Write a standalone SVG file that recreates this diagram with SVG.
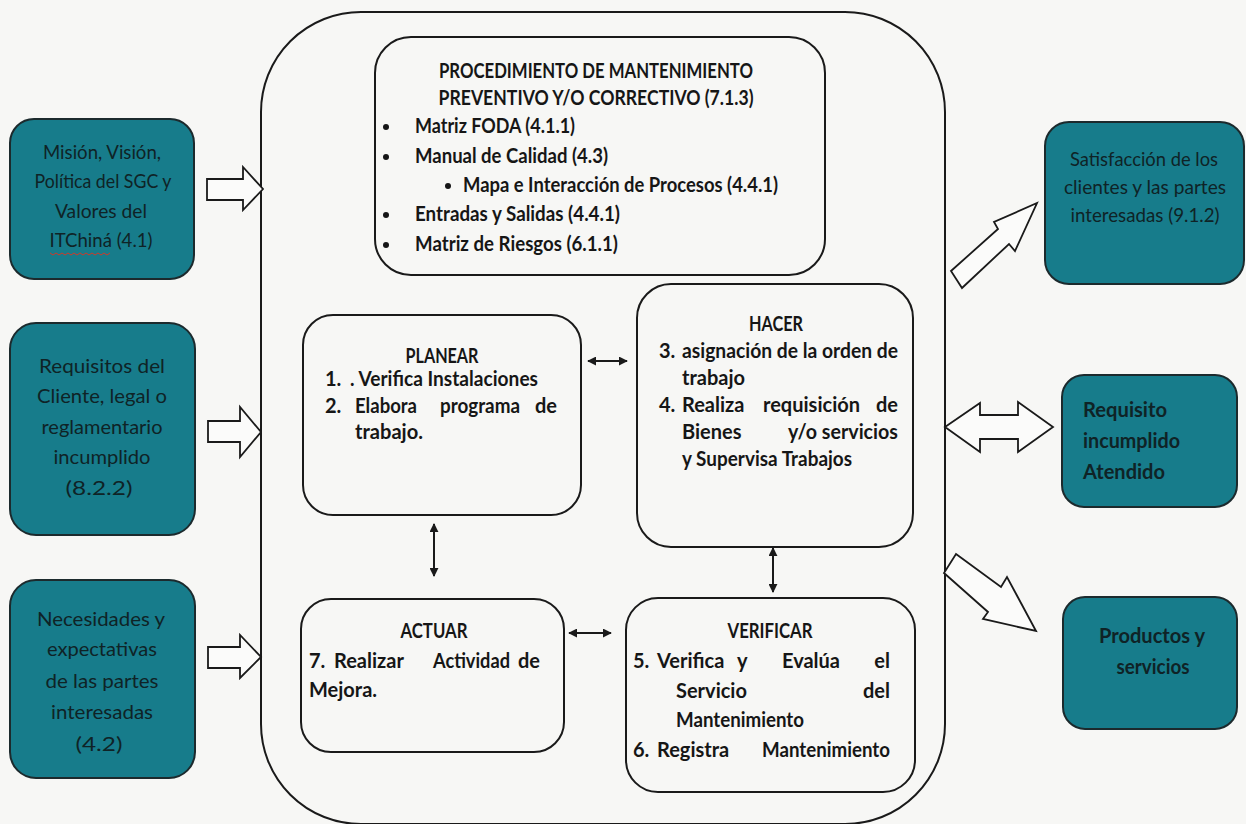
<svg xmlns="http://www.w3.org/2000/svg" width="1246" height="824" viewBox="0 0 1246 824">
<defs>
<style>
.bg{fill:#f7f7f5}
.teal{fill:#177c8b;stroke:#1c2a2d;stroke-width:2}
.box{fill:none;stroke:#1a1a1a;stroke-width:2}
.blk{fill:#fbfbfa;stroke:#1a1a1a;stroke-width:1.8;stroke-linejoin:miter}
.con{fill:none;stroke:#1a1a1a;stroke-width:2}
text{font-family:Lato,"Open Sans",sans-serif;fill:#161616}
.tt{font-size:20px;fill:#0f2326}
.ttb{font-size:20px;fill:#0f2326;font-weight:bold}
.in{font-size:20px;font-weight:bold}
.ttl{font-size:20px;font-weight:bold}
.c{text-anchor:middle}
.e{text-anchor:end}
</style>
<marker id="ah" viewBox="0 0 10 10" refX="9" refY="5" markerWidth="9" markerHeight="9" markerUnits="userSpaceOnUse" orient="auto-start-reverse">
<path d="M0,0 L10,5 L0,10 z" fill="#1a1a1a"/>
</marker>
</defs>
<rect class="bg" x="0" y="0" width="1246" height="824"/>

<g id="container">
<rect class="box" x="261" y="12" width="684" height="812" rx="100" ry="100"/>
</g>

<g id="n-mision">
<rect class="teal" x="10" y="119" width="184" height="160" rx="24"/>
<text class="tt c" x="102" y="159" textLength="118" lengthAdjust="spacingAndGlyphs">Misión, Visión,</text>
<text class="tt c" x="103" y="188" textLength="137" lengthAdjust="spacingAndGlyphs">Política del SGC y</text>
<text class="tt c" x="101" y="218" textLength="92" lengthAdjust="spacingAndGlyphs">Valores del</text>
<text class="tt c" x="101" y="247" textLength="103" lengthAdjust="spacingAndGlyphs">ITChiná (4.1)</text>
<path d="M50,253 l3,2 l3,-2 l3,2 l3,-2 l3,2 l3,-2 l3,2 l3,-2 l3,2 l3,-2 l3,2 l3,-2 l3,2 l3,-2 l3,2 l3,-2 l3,2 l3,-2 l3,2 l3,-2" fill="none" stroke="#d03a2a" stroke-width="1"/>
</g>

<g id="n-requisitos">
<rect class="teal" x="10" y="323" width="185" height="212" rx="26"/>
<text class="tt c" x="102" y="373" textLength="126" lengthAdjust="spacingAndGlyphs">Requisitos del</text>
<text class="tt c" x="102" y="403" textLength="130" lengthAdjust="spacingAndGlyphs">Cliente, legal o</text>
<text class="tt c" x="102" y="434" textLength="121" lengthAdjust="spacingAndGlyphs">reglamentario</text>
<text class="tt c" x="102" y="464" textLength="97" lengthAdjust="spacingAndGlyphs">incumplido</text>
<text class="tt c" x="99" y="495" textLength="67" lengthAdjust="spacingAndGlyphs">(8.2.2)</text>
</g>

<g id="n-necesidades">
<rect class="teal" x="10" y="580" width="185" height="198" rx="26"/>
<text class="tt c" x="101" y="626" textLength="128" lengthAdjust="spacingAndGlyphs">Necesidades y</text>
<text class="tt c" x="102" y="656" textLength="110" lengthAdjust="spacingAndGlyphs">expectativas</text>
<text class="tt c" x="102" y="688" textLength="113" lengthAdjust="spacingAndGlyphs">de las partes</text>
<text class="tt c" x="102" y="719" textLength="102" lengthAdjust="spacingAndGlyphs">interesadas</text>
<text class="tt c" x="99" y="751" textLength="47" lengthAdjust="spacingAndGlyphs">(4.2)</text>
</g>

<g id="n-procedimiento">
<rect class="box" x="375" y="37" width="450" height="238" rx="36"/>
<text class="ttl c" x="596" y="78" textLength="314" lengthAdjust="spacingAndGlyphs">PROCEDIMIENTO DE MANTENIMIENTO</text>
<text class="ttl c" x="596" y="105" textLength="315" lengthAdjust="spacingAndGlyphs">PREVENTIVO Y/O CORRECTIVO (7.1.3)</text>
<circle cx="386" cy="127" r="3" fill="#161616"/>
<text class="ttl" x="415" y="133" textLength="160" lengthAdjust="spacingAndGlyphs">Matriz FODA (4.1.1)</text>
<circle cx="386" cy="157" r="3" fill="#161616"/>
<text class="ttl" x="415" y="163" textLength="193" lengthAdjust="spacingAndGlyphs">Manual de Calidad (4.3)</text>
<circle cx="448" cy="186" r="3" fill="#161616"/>
<text class="ttl" x="463" y="192" textLength="315" lengthAdjust="spacingAndGlyphs">Mapa e Interacción de Procesos (4.4.1)</text>
<circle cx="386" cy="215" r="3" fill="#161616"/>
<text class="ttl" x="415" y="221" textLength="205" lengthAdjust="spacingAndGlyphs">Entradas y Salidas (4.4.1)</text>
<circle cx="386" cy="245" r="3" fill="#161616"/>
<text class="ttl" x="415" y="251" textLength="203" lengthAdjust="spacingAndGlyphs">Matriz de Riesgos (6.1.1)</text>
</g>

<g id="n-planear">
<rect class="box" x="303" y="315" width="278" height="200" rx="30"/>
<text class="in c" x="442" y="363" textLength="73" lengthAdjust="spacingAndGlyphs">PLANEAR</text>
<text class="in" x="325" y="386">1.</text>
<text class="in" x="350" y="386" textLength="188" lengthAdjust="spacingAndGlyphs">. Verifica Instalaciones</text>
<text class="in" x="325" y="413">2.</text>
<text class="in" x="355" y="413" textLength="62" lengthAdjust="spacingAndGlyphs">Elabora</text>
<text class="in" x="440" y="413" textLength="80" lengthAdjust="spacingAndGlyphs">programa</text>
<text class="in e" x="557" y="413">de</text>
<text class="in" x="355" y="439" textLength="68" lengthAdjust="spacingAndGlyphs">trabajo.</text>
</g>

<g id="n-hacer">
<rect class="box" x="637" y="284" width="276" height="263" rx="34"/>
<text class="in c" x="776" y="331" textLength="54" lengthAdjust="spacingAndGlyphs">HACER</text>
<text class="in" x="659" y="358">3.</text>
<text class="in" x="682" y="358" textLength="216" lengthAdjust="spacingAndGlyphs">asignación de la orden de</text>
<text class="in" x="682" y="385">trabajo</text>
<text class="in" x="659" y="412">4.</text>
<text class="in" x="682" y="412">Realiza</text>
<text class="in" x="763" y="412" textLength="97" lengthAdjust="spacingAndGlyphs">requisición</text>
<text class="in e" x="898" y="412">de</text>
<text class="in" x="682" y="439">Bienes</text>
<text class="in e" x="898" y="439" textLength="110" lengthAdjust="spacingAndGlyphs">y/o servicios</text>
<text class="in" x="682" y="466" textLength="170" lengthAdjust="spacingAndGlyphs">y Supervisa Trabajos</text>
</g>

<g id="n-actuar">
<rect class="box" x="301" y="599" width="263" height="153" rx="30"/>
<text class="in c" x="434" y="638" textLength="67" lengthAdjust="spacingAndGlyphs">ACTUAR</text>
<text class="in" x="309" y="668">7.</text>
<text class="in" x="334" y="668">Realizar</text>
<text class="in" x="433" y="668" textLength="77" lengthAdjust="spacingAndGlyphs">Actividad</text>
<text class="in e" x="540" y="668">de</text>
<text class="in" x="309" y="697">Mejora.</text>
</g>

<g id="n-verificar">
<rect class="box" x="626" y="598" width="289" height="194" rx="32"/>
<text class="in c" x="770" y="638" textLength="85" lengthAdjust="spacingAndGlyphs">VERIFICAR</text>
<text class="in" x="633" y="668">5.</text>
<text class="in" x="657" y="668">Verifica</text>
<text class="in" x="737" y="668">y</text>
<text class="in" x="782" y="668">Evalúa</text>
<text class="in e" x="890" y="668">el</text>
<text class="in" x="676" y="698">Servicio</text>
<text class="in e" x="890" y="698">del</text>
<text class="in" x="676" y="727" textLength="128" lengthAdjust="spacingAndGlyphs">Mantenimiento</text>
<text class="in" x="633" y="757">6.</text>
<text class="in" x="657" y="757">Registra</text>
<text class="in e" x="890" y="757" textLength="128" lengthAdjust="spacingAndGlyphs">Mantenimiento</text>
</g>

<g id="n-satisfaccion">
<rect class="teal" x="1045" y="122" width="199" height="162" rx="24"/>
<text class="tt c" x="1144" y="166" textLength="148" lengthAdjust="spacingAndGlyphs">Satisfacción de los</text>
<text class="tt c" x="1145" y="194" textLength="162" lengthAdjust="spacingAndGlyphs">clientes y las partes</text>
<text class="tt c" x="1145" y="222" textLength="149" lengthAdjust="spacingAndGlyphs">interesadas (9.1.2)</text>
</g>

<g id="n-requisito">
<rect class="teal" x="1062" y="375" width="175" height="132" rx="22"/>
<text class="ttb" x="1083" y="417" textLength="84" lengthAdjust="spacingAndGlyphs">Requisito</text>
<text class="ttb" x="1083" y="448" textLength="97" lengthAdjust="spacingAndGlyphs">incumplido</text>
<text class="ttb" x="1083" y="479" textLength="82" lengthAdjust="spacingAndGlyphs">Atendido</text>
</g>

<g id="n-productos">
<rect class="teal" x="1063" y="597" width="174" height="132" rx="22"/>
<text class="ttb c" x="1152" y="643" textLength="106" lengthAdjust="spacingAndGlyphs">Productos y</text>
<text class="ttb c" x="1153" y="674" textLength="73" lengthAdjust="spacingAndGlyphs">servicios</text>
</g>

<g id="connectors">
<polygon class="blk" points="207,179 243,179 243,167 263,189 243,210 243,200 207,200"/>
<polygon class="blk" points="208,421 240,421 240,407 261,432 240,457 240,442 208,442"/>
<polygon class="blk" points="208,647 240,647 240,635 261,657 240,678 240,668 208,668"/>
<polygon class="blk" points="951,271 998,229 994,222 1037,203 1015,251 1009,244 962,288"/>
<polygon class="blk" points="945,427 980,403 980,415 1018,415 1018,402 1053,427 1018,452 1018,439 980,439 980,452"/>
<polygon class="blk" points="956,554 1001,587 1007,577 1036,631 983,619 988,612 944,573"/>
<line class="con" x1="588" y1="361" x2="627" y2="361" marker-start="url(#ah)" marker-end="url(#ah)"/>
<line class="con" x1="569" y1="633" x2="611" y2="633" marker-start="url(#ah)" marker-end="url(#ah)"/>
<line class="con" x1="434" y1="524" x2="434" y2="576" marker-start="url(#ah)" marker-end="url(#ah)"/>
<line class="con" x1="773" y1="548" x2="773" y2="592" marker-start="url(#ah)" marker-end="url(#ah)"/>
</g>
</svg>
